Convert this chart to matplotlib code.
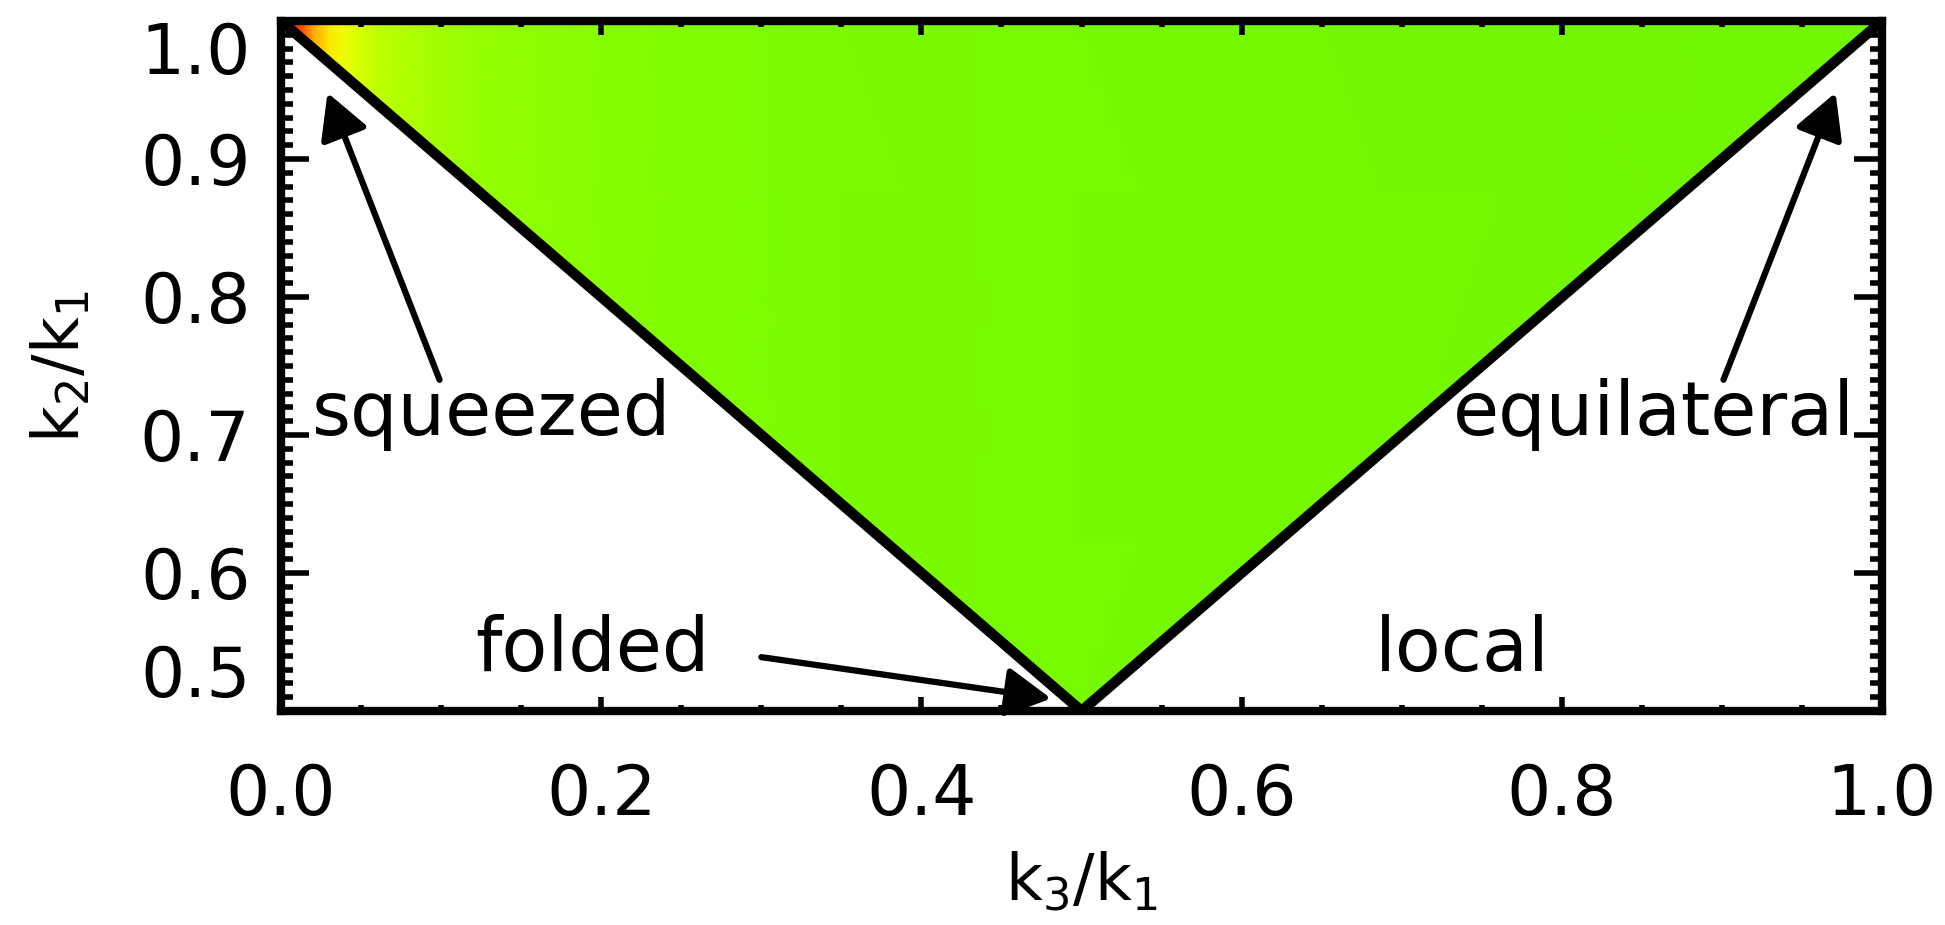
import numpy as np
import matplotlib
matplotlib.use('Agg')
import matplotlib.pyplot as plt
from matplotlib.colors import LinearSegmentedColormap
from matplotlib.patches import Polygon
from matplotlib.ticker import MultipleLocator, FormatStrFormatter

plt.rcParams['font.family'] = ['DejaVu Sans']
plt.rcParams['mathtext.fontset'] = 'dejavusans'

# triangle of allowed configurations (k3/k1, k2/k1)
tri_k3 = [0.0, 0.5, 1.0]
tri_k2 = [1.0, 0.5, 1.0]

# shape amplitude along k3/k1 (normalised)
shape_k3 = [0.0, 0.005, 0.01, 0.015, 0.02, 0.03, 0.04, 0.06, 0.09, 0.12,
            0.19, 0.25, 0.35, 0.5, 0.65, 0.8, 1.0]
shape_val = [1.0, 0.97, 0.92, 0.84, 0.74, 0.6, 0.5, 0.39, 0.31, 0.25,
             0.17, 0.13, 0.09, 0.06, 0.04, 0.02, 0.0]

# labels and arrows
labels = ['squeezed', 'equilateral', 'folded', 'local']
label_x = [0.019, 0.732, 0.121, 0.683]
label_y = [0.700, 0.700, 0.529, 0.529]
arrow_tail = [(0.099, 0.740), (0.901, 0.740), (0.300, 0.539)]
arrow_tip = [(0.029, 0.948), (0.971, 0.948), (0.481, 0.509)]

xticks = [0.0, 0.2, 0.4, 0.6, 0.8, 1.0]
yticks = [0.5, 0.6, 0.7, 0.8, 0.9, 1.0]

cmap = LinearSegmentedColormap.from_list('shape', [
    (0.0, '#6ff600'), (0.1, '#7cfc00'), (0.25, '#95ff00'), (0.42, '#c8ff00'),
    (0.55, '#ffff00'), (0.75, '#ffa000'), (0.9, '#ff4000'), (1.0, '#e01000')])

fig = plt.figure(figsize=(19.45, 9.25), dpi=100)
ax = fig.add_axes([0.1445, 0.2314, 0.8231, 0.7459])

Z = np.vstack([shape_val, shape_val])
mesh = ax.pcolormesh(shape_k3, [0.5, 1.0], Z, cmap=cmap, vmin=0, vmax=1,
                     shading='gouraud', zorder=1)
tri = Polygon(list(zip(tri_k3, tri_k2)), closed=True, transform=ax.transData)
mesh.set_clip_path(tri)

ax.plot(tri_k3, tri_k2, color='k', lw=7.5, solid_joinstyle='miter', zorder=3)

for txt, x, y in zip(labels, label_x, label_y):
    ax.text(x, y, txt, fontsize=54, ha='left', va='baseline', zorder=4)

for tail, tip in zip(arrow_tail, arrow_tip):
    ax.annotate('', xy=tip, xytext=tail, zorder=5, annotation_clip=False,
                arrowprops=dict(arrowstyle='-|>,head_length=0.55,head_width=0.3',
                                mutation_scale=50, lw=4.5, color='k',
                                shrinkA=0, shrinkB=0))

ax.set_xlim(0, 1)
ax.set_ylim(0.5, 1.0)
ax.set_xticks(xticks)
ax.set_yticks(yticks)
ax.xaxis.set_minor_locator(MultipleLocator(0.05))
ax.yaxis.set_minor_locator(MultipleLocator(0.01))
ax.xaxis.set_major_formatter(FormatStrFormatter('%.1f'))
ax.yaxis.set_major_formatter(FormatStrFormatter('%.1f'))

ax.tick_params(which='both', direction='in', top=True, right=True, width=4, colors='k')
ax.tick_params(axis='x', which='major', length=10, pad=37, labelsize=50)
ax.tick_params(axis='x', which='minor', length=4)
ax.tick_params(axis='y', which='major', length=20, pad=22, labelsize=50)
ax.tick_params(axis='y', which='minor', length=8.5)

# end labels on the y axis sit inside the frame
ymaj = ax.yaxis.get_major_ticks()
ymaj[0].label1.set_verticalalignment('bottom')
ymaj[-1].label1.set_verticalalignment('top')

for s in ax.spines.values():
    s.set_linewidth(6)
    s.set_zorder(6)

ax.set_xlabel(r'$\mathregular{k_3/k_1}$', fontsize=46)
ax.set_ylabel(r'$\mathregular{k_2/k_1}$', fontsize=46)
ax.xaxis.set_label_coords(0.5, -0.2)
ax.yaxis.set_label_coords(-0.118, 0.5)

fig.savefig('out.png', dpi=100)
